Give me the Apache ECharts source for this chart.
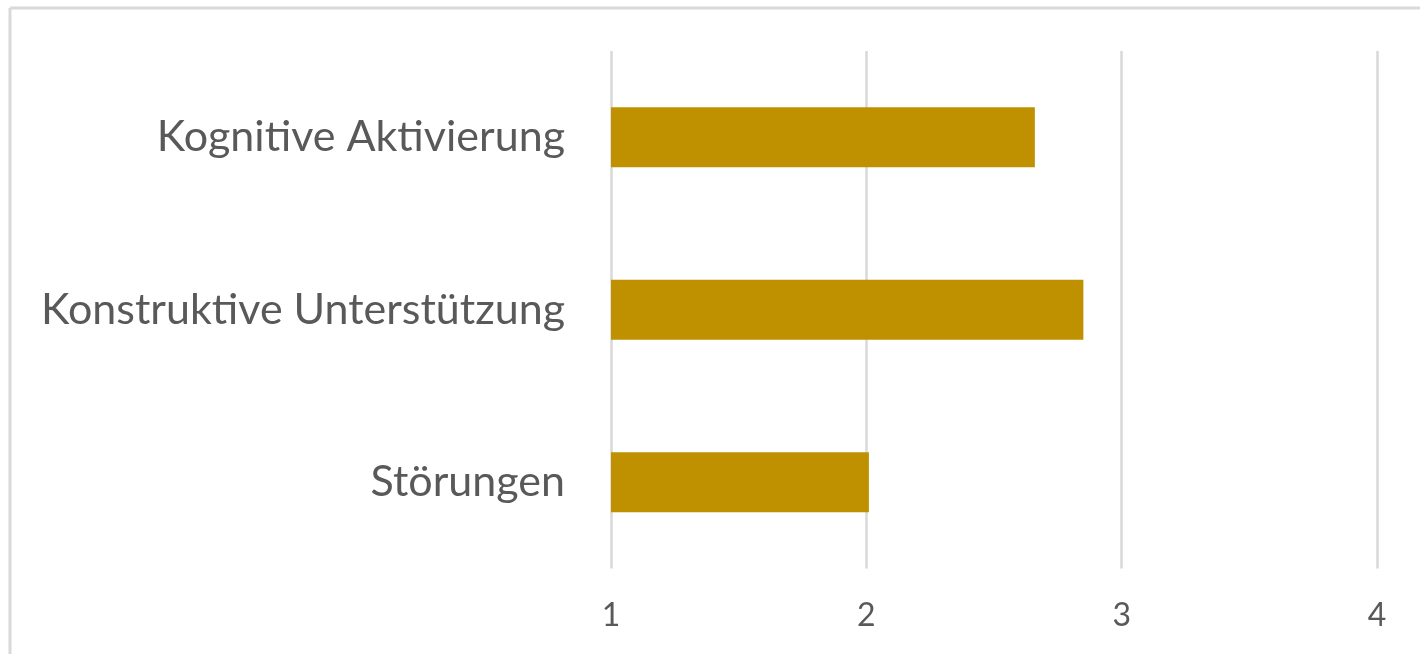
<!DOCTYPE html>
<html>
<head>
<meta charset="utf-8">
<script src="https://cdn.jsdelivr.net/npm/echarts@6/dist/echarts.min.js"></script>
<style>
html,body{margin:0;padding:0;background:#fff;}
#c{width:1420px;height:654px;}
</style>
</head>
<body>
<div id="c"></div>
<script>
const categories = ['Kognitive Aktivierung', 'Konstruktive Unterstützung', 'Störungen'];
const values = [2.66, 2.85, 2.01];
const xTicks = [1, 2, 3, 4];

const chart = echarts.init(document.getElementById('c'));
chart.setOption({
  animation: false,
  backgroundColor: '#fff',
  graphic: [
    { type: 'line', shape: { x1: 10, y1: 8, x2: 1420, y2: 8 }, style: { stroke: '#d9d9d9', lineWidth: 3 } },
    { type: 'line', shape: { x1: 10, y1: 8, x2: 10, y2: 654 }, style: { stroke: '#d9d9d9', lineWidth: 3 } }
  ],
  grid: { left: 611, right: 43, top: 51, bottom: 85.5, containLabel: false },
  xAxis: {
    type: 'value',
    min: xTicks[0],
    max: xTicks[xTicks.length - 1],
    interval: 1,
    axisLine: { show: false },
    axisTick: { show: false },
    axisLabel: { color: '#595959', fontSize: 32, fontFamily: 'Lato', margin: 31 },
    splitLine: { show: true, lineStyle: { color: '#d9d9d9', width: 2.5 } }
  },
  yAxis: {
    type: 'category',
    data: categories,
    inverse: true,
    axisLine: { show: false },
    axisTick: { show: false },
    axisLabel: { color: '#595959', fontSize: 43, fontFamily: 'Lato', margin: 46 },
    splitLine: { show: false }
  },
  series: [{
    type: 'bar',
    data: values,
    barWidth: 60,
    itemStyle: { color: '#BF9000' }
  }]
});
</script>
</body>
</html>
